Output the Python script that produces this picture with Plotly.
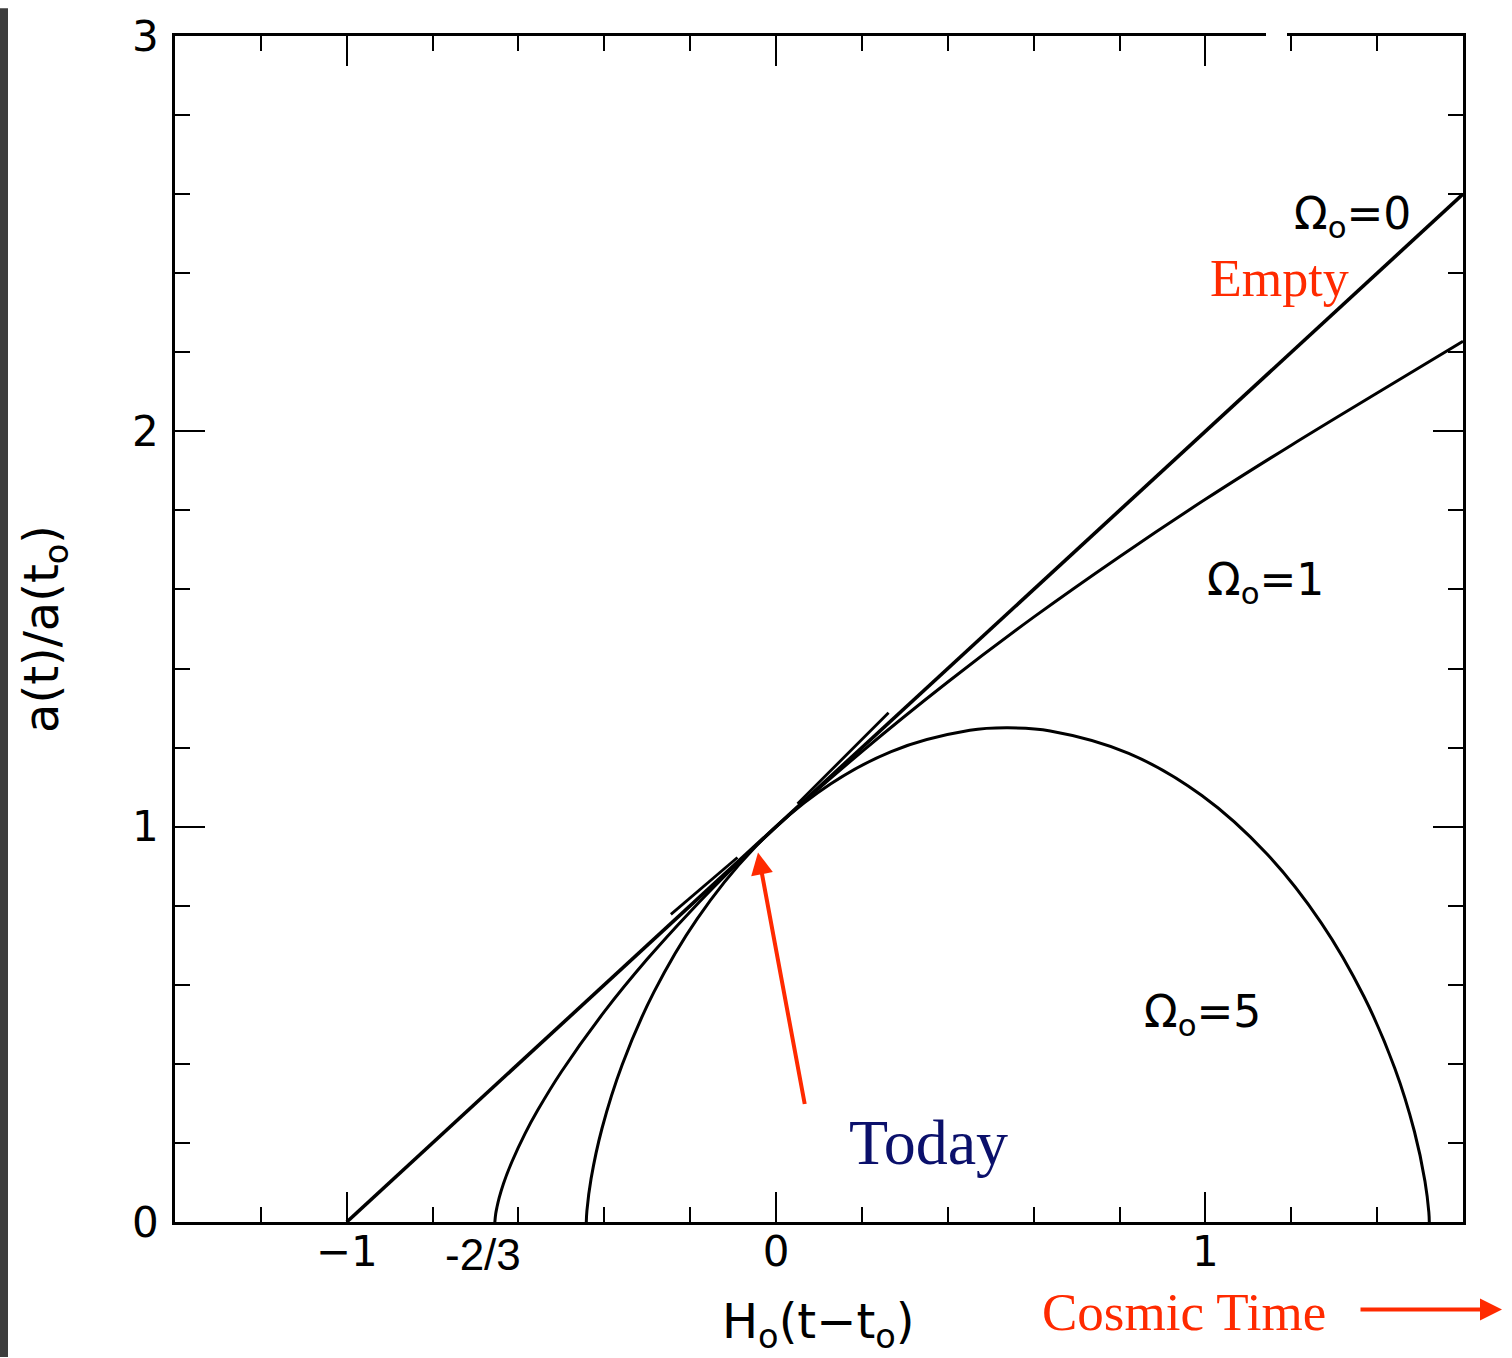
import plotly.graph_objects as go

# ---------------- data ----------------
# Omega_0 = 0 (empty universe): straight line
om0_x = [-1.0, 1.6]
om0_y = [0.0, 2.6]

# Omega_0 = 1 (flat, matter only)
om1_x = [-0.655, -0.653, -0.650, -0.645, -0.635, -0.615, -0.585, -0.555, -0.5,
         -0.4, -0.3, -0.2, -0.1, 0.0, 0.2, 0.4, 0.6, 0.8, 1.0, 1.2, 1.4, 1.6]
om1_y = [0.0, 0.021, 0.038, 0.061, 0.097, 0.153, 0.223, 0.283, 0.380,
         0.532, 0.665, 0.785, 0.896, 1.0, 1.19, 1.366, 1.530, 1.683, 1.828,
         1.965, 2.097, 2.228]

# Omega_0 = 5 (closed, recollapsing)
om5_x = [-0.442, -0.4406, -0.4309, -0.4055, -0.3582, -0.2849, -0.1838, -0.0555,
         0.0970, 0.2682, 0.4514, 0.5398, 0.6386, 0.8213, 0.9917, 1.1429, 1.2698,
         1.3693, 1.4411, 1.4870, 1.5114, 1.5204, 1.5215]
om5_y = [0.0, 0.0279, 0.1092, 0.2365, 0.3985, 0.5808, 0.7670, 0.9405, 1.0859,
         1.1900, 1.2437, 1.25, 1.2422, 1.1855, 1.0787, 0.9314, 0.7568, 0.5703,
         0.3888, 0.2283, 0.1033, 0.0249, 0.0]

# short tangent strokes drawn near "today"
tan_lo_x = [-0.245, -0.09]
tan_lo_y = [0.778, 0.922]
tan_hi_x = [0.05, 0.262]
tan_hi_y = [1.058, 1.288]

x_tickvals = [-1, 0, 1]
x_ticktext = ["\u22121", "0", "1"]
y_tickvals = [0, 1, 2, 3]
y_ticktext = ["0", "1", "2", "3"]

# ---------------- layout geometry ----------------
W, H = 1512, 1358
L, R, T, B = 175, 49, 28, 136
PW = W - L - R
PH = H - T - B


def px(xp):
    return (xp - L) / PW


def py(yp):
    return (H - B - yp) / PH


fig = go.Figure()

fig.add_trace(go.Scatter(x=om0_x, y=om0_y, mode="lines",
                         line=dict(color="black", width=3.6), hoverinfo="skip"))
fig.add_trace(go.Scatter(x=om1_x, y=om1_y, mode="lines", line_shape="spline",
                         line=dict(color="black", width=3.0), hoverinfo="skip"))
fig.add_trace(go.Scatter(x=om5_x, y=om5_y, mode="lines", line_shape="spline",
                         line=dict(color="black", width=3.0), hoverinfo="skip"))
fig.add_trace(go.Scatter(x=tan_lo_x, y=tan_lo_y, mode="lines",
                         line=dict(color="black", width=2.8), hoverinfo="skip"))
fig.add_trace(go.Scatter(x=tan_hi_x, y=tan_hi_y, mode="lines",
                         line=dict(color="black", width=2.8), hoverinfo="skip"))

axis_common = dict(
    showline=True, linecolor="black", linewidth=2.5, mirror="ticks",
    ticks="inside", ticklen=30, tickwidth=2.2, tickcolor="black",
    showgrid=False, zeroline=False,
    tickfont=dict(family="DejaVu Sans", size=42, color="black"),
)

fig.update_xaxes(
    range=[-1.4, 1.6], tickmode="array", tickvals=x_tickvals, ticktext=x_ticktext,
    ticklabelstandoff=-9,
    minor=dict(tick0=0, dtick=0.2, ticks="inside", ticklen=15, tickwidth=2.2,
               tickcolor="black", showgrid=False),
    **axis_common,
)
fig.update_yaxes(
    range=[0, 3], tickmode="array", tickvals=y_tickvals, ticktext=y_ticktext,
    ticklabelstandoff=5,
    minor=dict(tick0=0, dtick=0.2, ticks="inside", ticklen=15, tickwidth=2.2,
               tickcolor="black", showgrid=False),
    **axis_common,
)

RED = "#ff2a00"
NAVY = "#0b106b"
MATH = dict(family="DejaVu Sans", size=44, color="black")
TITLE = dict(family="DejaVu Sans", size=48, color="black")
SERIF = "Liberation Serif"

annotations = [
    dict(text="\u03a9<sub>o</sub>=0", x=px(1352), y=py(210), font=MATH),
    dict(text="Empty", x=px(1279), y=py(272), font=dict(family=SERIF, size=52, color=RED)),
    dict(text="\u03a9<sub>o</sub>=1", x=px(1265), y=py(578), font=MATH),
    dict(text="\u03a9<sub>o</sub>=5", x=px(1202), y=py(1013), font=MATH),
    dict(text="Today", x=px(928), y=py(1142), font=dict(family=SERIF, size=64, color=NAVY)),
    dict(text="-2/3", x=px(483), y=py(1255), font=dict(family="Liberation Sans", size=44, color="black")),
    dict(text="H<sub>o</sub>(t\u2212t<sub>o</sub>)", x=px(818), y=py(1325), font=TITLE),
    dict(text="Cosmic Time", x=px(1184), y=py(1313), font=dict(family=SERIF, size=53, color=RED)),
    dict(text="a(t)/a(t<sub>o</sub>)", x=px(44), y=py(625), font=TITLE, textangle=-90),
]
for a in annotations:
    a.update(xref="paper", yref="paper", showarrow=False,
             xanchor="center", yanchor="middle")

# arrows
annotations.append(dict(
    xref="paper", yref="paper", x=px(758), y=py(850), text="",
    showarrow=True, ax=47, ay=253, arrowhead=2, arrowsize=1.1,
    arrowwidth=4, arrowcolor=RED,
))
annotations.append(dict(
    xref="paper", yref="paper", x=px(1502), y=py(1310), text="",
    showarrow=True, ax=-143, ay=0, arrowhead=2, arrowsize=1.1,
    arrowwidth=4, arrowcolor=RED,
))

fig.update_layout(
    width=W, height=H,
    margin=dict(l=L, r=R, t=T, b=B),
    paper_bgcolor="white", plot_bgcolor="white",
    showlegend=False,
    annotations=annotations,
    shapes=[
        dict(type="rect", xref="paper", yref="paper",
             x0=px(0), x1=px(8), y0=py(H), y1=py(0),
             fillcolor="#3d3d3d", line=dict(width=0), layer="above"),
        # small break in the top frame line seen in the reference
        dict(type="rect", xref="paper", yref="paper",
             x0=px(1266), x1=px(1287), y0=py(31), y1=py(25),
             fillcolor="white", line=dict(width=0), layer="above"),
    ],
)

fig.write_html("out.html", config={"displayModeBar": False},
               post_script="document.body.style.margin='0px';")
